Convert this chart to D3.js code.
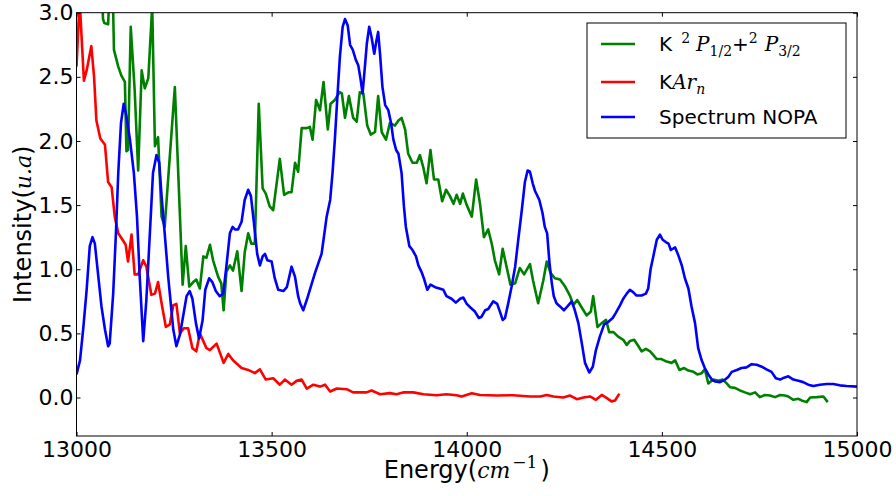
<!DOCTYPE html>
<html><head><meta charset="utf-8">
<script src="https://cdnjs.cloudflare.com/ajax/libs/d3/7.8.5/d3.min.js"></script>
<style>
html,body{margin:0;padding:0;background:#fff;}
svg{display:block;}
text{font-family:"DejaVu Sans",sans-serif;}
.m{font-family:"DejaVu Serif",serif;font-style:italic;}
.s{font-family:"DejaVu Serif",serif;}
</style></head>
<body><svg id="c" width="896" height="496"></svg>
<script>
const xTicks = [13000, 13500, 14000, 14500, 15000];
const yTicks = [0.0, 0.5, 1.0, 1.5, 2.0, 2.5, 3.0];
const seriesNames = ["K2P", "KArn", "NOPA"];
const seriesColors = ["#008000", "#ff0000", "#0000ff"];

const greenData = [[13000,4.5],[13060,3.5],[13068,2.95],[13071,2.92],[13081,2.91],[13087,3.3],[13092,3.3],[13096,2.71],[13107,2.58],[13115,2.51],[13124,2.46],[13128,1.92],[13132,1.93],[13139,2.89],[13149,2.40],[13158,1.77],[13167,2.55],[13175,2.41],[13184,2.49],[13194,3.05],[13201,1.96],[13209,2.03],[13218,1.41],[13226,1.33],[13252,2.42],[13272,0.88],[13280,1.18],[13289,0.865],[13299,0.90],[13307,0.92],[13316,0.85],[13325,1.10],[13333,1.09],[13342,1.19],[13350,1.07],[13363,0.94],[13371,0.89],[13377,0.68],[13384,0.98],[13393,1.03],[13401,0.99],[13412,1.14],[13423,0.83],[13431,1.13],[13440,1.28],[13448,1.20],[13457,1.20],[13467,2.29],[13477,1.63],[13485,1.59],[13495,1.49],[13504,1.46],[13521,1.86],[13532,1.58],[13543,1.60],[13551,1.60],[13560,1.83],[13568,1.76],[13577,2.10],[13590,2.10],[13598,2.11],[13605,2.01],[13614,2.32],[13624,2.24],[13633,2.46],[13644,2.09],[13651,2.29],[13662,2.32],[13674,2.38],[13680,2.37],[13688,2.18],[13698,2.35],[13709,2.18],[13718,2.15],[13726,2.38],[13735,2.37],[13745,2.12],[13754,2.05],[13765,2.07],[13773,2.35],[13782,2.07],[13793,2.01],[13803,2.14],[13816,2.12],[13825,2.16],[13833,2.18],[13842,2.09],[13850,1.90],[13861,1.83],[13872,1.83],[13880,1.89],[13889,1.79],[13897,1.67],[13907,1.93],[13916,1.70],[13927,1.70],[13937,1.53],[13947,1.62],[13957,1.57],[13966,1.51],[13974,1.58],[13983,1.51],[13990,1.59],[14000,1.50],[14013,1.41],[14024,1.70],[14034,1.51],[14044,1.25],[14055,1.31],[14064,1.20],[14072,1.07],[14083,0.96],[14092,1.16],[14102,1.02],[14112,0.88],[14124,0.89],[14136,1.01],[14147,0.96],[14162,1.04],[14170,0.91],[14183,0.735],[14196,0.91],[14205,1.06],[14215,0.97],[14226,0.93],[14239,0.92],[14252,0.865],[14265,0.79],[14273,0.72],[14283,0.76],[14295,0.70],[14307,0.64],[14318,0.67],[14324,0.79],[14335,0.55],[14346,0.58],[14357,0.605],[14365,0.51],[14376,0.51],[14388,0.475],[14401,0.45],[14410,0.41],[14418,0.44],[14429,0.45],[14440,0.40],[14448,0.36],[14459,0.38],[14470,0.36],[14487,0.30],[14499,0.30],[14512,0.28],[14525,0.27],[14534,0.29],[14545,0.215],[14557,0.23],[14568,0.21],[14581,0.20],[14591,0.18],[14602,0.19],[14610,0.22],[14619,0.11],[14632,0.14],[14645,0.13],[14656,0.14],[14666,0.11],[14675,0.08],[14687,0.075],[14700,0.055],[14713,0.04],[14726,0.026],[14739,0.04],[14751,0.003],[14764,0.02],[14777,0.016],[14790,0.003],[14803,0.02],[14815,0.016],[14824,0.008],[14837,-0.018],[14850,-0.01],[14858,-0.023],[14871,-0.036],[14880,0.0],[14897,0.003],[14914,0.008],[14925,-0.036]];

const redData = [[13000,2.58],[13008,3.1],[13019,2.47],[13026,2.55],[13038,2.74],[13045,2.5],[13051,2.16],[13061,2.02],[13073,1.97],[13081,1.68],[13090,1.64],[13098,1.41],[13107,1.28],[13120,1.22],[13126,1.19],[13132,1.06],[13141,1.27],[13149,0.96],[13158,0.96],[13171,1.07],[13179,1.02],[13192,0.80],[13201,0.81],[13209,0.90],[13218,0.735],[13229,0.55],[13239,0.57],[13248,0.72],[13256,0.73],[13265,0.50],[13275,0.54],[13286,0.54],[13297,0.385],[13307,0.36],[13316,0.50],[13333,0.385],[13342,0.37],[13359,0.42],[13377,0.27],[13389,0.34],[13401,0.29],[13423,0.23],[13440,0.215],[13457,0.19],[13470,0.22],[13485,0.14],[13504,0.15],[13521,0.10],[13534,0.14],[13551,0.10],[13564,0.13],[13577,0.14],[13590,0.07],[13607,0.10],[13624,0.085],[13637,0.10],[13650,0.047],[13667,0.07],[13692,0.065],[13709,0.04],[13743,0.04],[13756,0.055],[13778,0.026],[13803,0.034],[13820,0.026],[13837,0.04],[13863,0.04],[13889,0.026],[13923,0.018],[13948,0.026],[13974,0.018],[13987,0.008],[14013,0.034],[14034,0.02],[14077,0.016],[14119,0.018],[14162,0.008],[14188,0.008],[14205,0.02],[14222,0.008],[14247,0.0],[14265,0.015],[14282,-0.013],[14299,0.0],[14316,0.008],[14331,-0.018],[14346,0.02],[14359,-0.005],[14371,-0.03],[14380,-0.023],[14391,0.03]];

const blueData = [[13000,0.18],[13009,0.29],[13017,0.53],[13026,0.84],[13034,1.18],[13041,1.25],[13047,1.20],[13056,0.94],[13064,0.71],[13073,0.53],[13081,0.40],[13085,0.42],[13094,0.81],[13101,1.28],[13107,1.75],[13114,2.14],[13121,2.29],[13128,2.19],[13137,2.01],[13147,1.75],[13155,1.41],[13162,0.94],[13171,0.44],[13179,0.76],[13188,1.28],[13196,1.75],[13205,1.89],[13212,1.83],[13218,1.57],[13226,1.28],[13235,0.94],[13248,0.53],[13256,0.40],[13265,0.49],[13273,0.63],[13282,0.79],[13290,0.83],[13297,0.77],[13306,0.58],[13314,0.46],[13323,0.60],[13330,0.84],[13340,0.93],[13348,0.90],[13357,0.83],[13367,0.79],[13376,0.81],[13384,1.02],[13393,1.28],[13400,1.33],[13406,1.31],[13414,1.31],[13423,1.37],[13431,1.54],[13440,1.62],[13447,1.57],[13454,1.38],[13463,1.12],[13470,1.03],[13477,1.10],[13483,1.12],[13489,1.07],[13500,1.06],[13508,0.93],[13517,0.84],[13530,0.83],[13539,0.86],[13551,1.02],[13560,0.94],[13568,0.79],[13573,0.735],[13581,0.68],[13590,0.76],[13603,0.89],[13611,0.97],[13620,1.05],[13628,1.12],[13633,1.23],[13641,1.41],[13650,1.54],[13656,1.75],[13662,2.01],[13668,2.32],[13675,2.66],[13682,2.89],[13688,2.95],[13695,2.90],[13701,2.75],[13708,2.71],[13716,2.63],[13722,2.59],[13728,2.48],[13733,2.37],[13739,2.58],[13744,2.76],[13750,2.89],[13756,2.81],[13763,2.68],[13769,2.79],[13773,2.85],[13778,2.67],[13784,2.42],[13791,2.28],[13799,2.24],[13806,2.14],[13812,2.01],[13819,1.93],[13825,1.90],[13833,1.75],[13839,1.49],[13844,1.33],[13853,1.18],[13861,1.15],[13870,1.10],[13876,1.03],[13884,0.98],[13890,0.93],[13899,0.84],[13907,0.88],[13919,0.86],[13930,0.85],[13940,0.84],[13948,0.79],[13961,0.77],[13972,0.74],[13983,0.77],[13991,0.78],[14000,0.73],[14010,0.70],[14021,0.67],[14031,0.62],[14038,0.63],[14047,0.68],[14055,0.69],[14068,0.75],[14078,0.73],[14085,0.67],[14092,0.605],[14098,0.62],[14106,0.73],[14115,0.865],[14124,1.02],[14132,1.23],[14141,1.46],[14149,1.68],[14156,1.77],[14162,1.76],[14169,1.67],[14175,1.61],[14186,1.54],[14194,1.44],[14200,1.33],[14206,1.28],[14212,1.05],[14218,0.89],[14223,0.79],[14230,0.735],[14239,0.71],[14249,0.68],[14258,0.71],[14269,0.75],[14277,0.68],[14286,0.58],[14295,0.42],[14303,0.27],[14314,0.195],[14323,0.24],[14331,0.37],[14341,0.475],[14352,0.57],[14363,0.59],[14374,0.62],[14382,0.66],[14393,0.72],[14401,0.77],[14410,0.81],[14418,0.84],[14427,0.82],[14435,0.795],[14448,0.795],[14459,0.81],[14465,0.85],[14471,1.0],[14478,1.10],[14487,1.23],[14495,1.27],[14502,1.23],[14511,1.21],[14517,1.20],[14523,1.15],[14534,1.17],[14542,1.11],[14551,1.03],[14559,0.93],[14568,0.85],[14576,0.71],[14585,0.58],[14593,0.385],[14602,0.29],[14610,0.23],[14619,0.18],[14628,0.14],[14636,0.125],[14649,0.12],[14662,0.14],[14670,0.16],[14679,0.20],[14692,0.215],[14704,0.23],[14717,0.235],[14730,0.26],[14743,0.255],[14756,0.24],[14768,0.22],[14781,0.20],[14792,0.15],[14803,0.14],[14813,0.155],[14824,0.165],[14837,0.14],[14850,0.13],[14862,0.12],[14875,0.10],[14888,0.09],[14905,0.10],[14922,0.105],[14939,0.105],[14956,0.095],[14973,0.09],[15000,0.085]];

const L = 76.5, R = 857, T = 12.7, B = 436;
const svg = d3.select("#c");
const x = d3.scaleLinear().domain([13000, 15000]).range([L, R]);
const y = d3.scaleLinear().domain([-0.3, 3.0]).range([B, T]);

svg.append("defs").append("clipPath").attr("id", "clip")
  .append("rect").attr("x", L).attr("y", T).attr("width", R - L).attr("height", B - T);

const line = d3.line().x(d => x(d[0])).y(d => y(d[1]));
const allData = [greenData, redData, blueData];
const g = svg.append("g").attr("clip-path", "url(#clip)");
allData.forEach((d, i) => {
  g.append("path").datum(d).attr("d", line)
    .attr("fill", "none").attr("stroke", seriesColors[i])
    .attr("stroke-width", 2.6).attr("stroke-linejoin", "round").attr("stroke-linecap", "butt");
});

// axes
function styleAxis(sel) {
  sel.select(".domain").remove();
  sel.selectAll(".tick line").attr("stroke", "#000").attr("stroke-width", 1);
  sel.selectAll(".tick text").attr("fill", "#000").style("font-size", "22px").style("font-family", "DejaVu Sans");
}
svg.append("g").attr("transform", `translate(0,${B})`)
  .call(d3.axisBottom(x).tickValues(xTicks).tickFormat(d3.format("d")).tickSizeInner(-4).tickSizeOuter(0).tickPadding(5))
  .call(styleAxis);
svg.append("g").attr("transform", `translate(0,${T})`)
  .call(d3.axisTop(x).tickValues(xTicks).tickFormat("").tickSizeInner(-4).tickSizeOuter(0))
  .call(styleAxis);
svg.append("g").attr("transform", `translate(${L},0)`)
  .call(d3.axisLeft(y).tickValues(yTicks).tickFormat(d3.format(".1f")).tickSizeInner(-4).tickSizeOuter(0).tickPadding(3))
  .call(styleAxis);
svg.append("g").attr("transform", `translate(${R},0)`)
  .call(d3.axisRight(y).tickValues(yTicks).tickFormat("").tickSizeInner(-4).tickSizeOuter(0))
  .call(styleAxis);

svg.append("rect").attr("x", L).attr("y", T).attr("width", R - L).attr("height", B - T)
  .attr("fill", "none").attr("stroke", "#000").attr("stroke-width", 1);

// axis labels
const xl = svg.append("text").attr("x", (L + R) / 2).attr("y", 478).attr("text-anchor", "middle").style("font-size", "24px");
xl.append("tspan").text("Energy(");
xl.append("tspan").attr("class", "m").style("font-size", "22px").text("cm");
xl.append("tspan").attr("class", "s").attr("dy", -10).attr("dx", 2).style("font-size", "17px").text("−1");
xl.append("tspan").attr("dy", 10).attr("dx", 3).text(")");

const yl = svg.append("text").attr("transform", `translate(31,${(T + B) / 2}) rotate(-90)`).attr("text-anchor", "middle").style("font-size", "24px");
yl.append("tspan").text("Intensity(");
yl.append("tspan").attr("class", "m").style("font-size", "22px").text("u.a");
yl.append("tspan").text(")");

// legend
const lg = svg.append("g");
lg.append("rect").attr("x", 587).attr("y", 23).attr("width", 259).attr("height", 115)
  .attr("fill", "#fff").attr("stroke", "#000").attr("stroke-width", 1);
const rowsY = [44, 82, 117];
rowsY.forEach((ry, i) => {
  lg.append("line").attr("x1", 601).attr("x2", 635).attr("y1", ry).attr("y2", ry)
    .attr("stroke", seriesColors[i]).attr("stroke-width", 2.6);
});
const t1 = lg.append("text").attr("x", 659).attr("y", rowsY[0] + 7).style("font-size", "20px");
t1.append("tspan").text("K");
t1.append("tspan").attr("class", "s").attr("dy", -8).attr("dx", 9).style("font-size", "14px").text("2");
t1.append("tspan").attr("class", "m").attr("dy", 8).attr("dx", 6).style("font-size", "20px").text("P");
t1.append("tspan").attr("class", "s").attr("dy", 5).style("font-size", "14px").text("1/2");
t1.append("tspan").attr("dy", -5).text("+");
t1.append("tspan").attr("class", "s").attr("dy", -8).style("font-size", "14px").text("2");
t1.append("tspan").attr("class", "m").attr("dy", 8).attr("dx", 7).style("font-size", "20px").text("P");
t1.append("tspan").attr("class", "s").attr("dy", 5).style("font-size", "14px").text("3/2");

const t2 = lg.append("text").attr("x", 659).attr("y", rowsY[1] + 7).style("font-size", "20px");
t2.append("tspan").text("K");
t2.append("tspan").attr("class", "m").style("font-size", "20px").text("Ar");
t2.append("tspan").attr("class", "m").attr("dy", 5).style("font-size", "14px").text("n");

lg.append("text").attr("x", 659).attr("y", rowsY[2] + 7).style("font-size", "20px").text("Spectrum NOPA");
</script></body></html>
